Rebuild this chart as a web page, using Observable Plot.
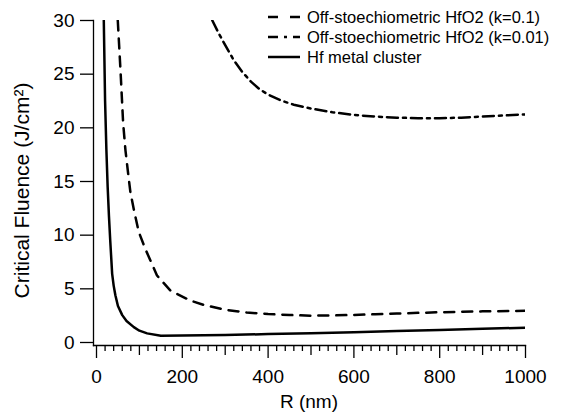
<!DOCTYPE html>
<html><head><meta charset="utf-8">
<script src="https://cdn.jsdelivr.net/npm/d3@7"></script>
<script src="https://cdn.jsdelivr.net/npm/@observablehq/plot@0.6"></script>
<style>
body{margin:0;background:#fff;color:#000}
#chart{position:relative;width:561px;height:414px}
</style>
</head><body><div id="chart"></div>
<script>
// ---- data ----
const seriesNames = ["Off-stoechiometric HfO2 (k=0.1)", "Off-stoechiometric HfO2 (k=0.01)", "Hf metal cluster"];

const rK01 = [49.6, 56, 62, 67.5, 73, 79, 87, 98.5, 114, 141, 172, 219, 250, 300, 350, 400, 450, 500, 550, 600, 650, 700, 800, 900, 1000];
const fK01 = [30, 25.3, 20.5, 17.9, 16, 14, 12.4, 10.3, 8.7, 6.24, 4.85, 3.9, 3.5, 3.05, 2.8, 2.65, 2.56, 2.5, 2.52, 2.57, 2.63, 2.7, 2.82, 2.9, 2.95];

const rK001 = [270, 285, 300, 320, 340, 360, 380, 400, 430, 460, 500, 550, 600, 650, 700, 750, 800, 850, 900, 950, 1000];
const fK001 = [30, 28.8, 27.7, 26.3, 25.2, 24.3, 23.6, 23.1, 22.55, 22.15, 21.8, 21.45, 21.2, 21.05, 20.95, 20.9, 20.9, 20.95, 21.05, 21.15, 21.25];

const rHf = [17, 20, 23, 26, 29, 32, 36.5, 40, 44, 50, 60, 70, 87, 100, 118, 150, 200, 300, 400, 500, 600, 700, 800, 900, 1000];
const fHf = [30, 22.5, 18, 14.5, 11.8, 9.5, 6.4, 5.3, 4.4, 3.4, 2.55, 2.0, 1.43, 1.1, 0.85, 0.63, 0.65, 0.7, 0.78, 0.87, 0.96, 1.06, 1.16, 1.27, 1.38];

const xMajorTicks = [0, 200, 400, 600, 800, 1000];
const xMidTicks = [100, 300, 500, 700, 900];
const xMinorTicks = [20, 40, 60, 80, 120, 140, 160, 180, 220, 240, 260, 280, 320, 340, 360, 380, 420, 440, 460, 480, 520, 540, 560, 580, 620, 640, 660, 680, 720, 740, 760, 780, 820, 840, 860, 880, 920, 940, 960, 980];
const yTicks = [0, 5, 10, 15, 20, 25, 30];

const xTitle = "R (nm)";
const yTitle = "Critical Fluence (J/cm\u00B2)";

// ---- build ----
const zip = (xs, ys) => xs.map((x, i) => ({r: x, f: ys[i]}));
const dK01 = zip(rK01, fK01);
const dK001 = zip(rK001, fK001);
const dHf = zip(rHf, fHf);

const dashes = ["10,8", "11,5,3,5", null];
const font = "'Liberation Sans', Arial, Helvetica, sans-serif";

const chart = Plot.plot({
  width: 561,
  height: 414,
  marginLeft: 93,
  marginRight: 36,
  marginTop: 20,
  marginBottom: 69,
  style: {fontFamily: font, background: "#fff", color: "#000", overflow: "visible"},
  x: {domain: [-7, 1000]},
  y: {domain: [-0.28, 30]},
  marks: [
    Plot.frame({anchor: "left", strokeWidth: 1.3}),
    Plot.frame({anchor: "bottom", strokeWidth: 1.3}),
    Plot.axisY(yTicks, {tickSize: 13, tickPadding: 6, fontSize: 19, label: null, strokeWidth: 1.3, tickFormat: d => String(d)}),
    Plot.axisX(xMajorTicks, {tickSize: 13, tickPadding: 11, fontSize: 19, label: null, strokeWidth: 1.3, tickFormat: d => String(d)}),
    Plot.axisX(xMidTicks, {tickSize: 10, tickFormat: () => "", label: null, strokeWidth: 1.3}),
    Plot.axisX(xMinorTicks, {tickSize: 6, tickFormat: () => "", label: null, strokeWidth: 1.3}),
    Plot.line(dHf, {x: "r", y: "f", stroke: "#000", strokeWidth: 2.5, clip: true}),
    Plot.line(dK01, {x: "r", y: "f", stroke: "#000", strokeWidth: 2.5, strokeDasharray: dashes[0], clip: true}),
    Plot.line(dK001, {x: "r", y: "f", stroke: "#000", strokeWidth: 2.5, strokeDasharray: dashes[1], clip: true})
  ]
});

const sx = chart.scale("x"), sy = chart.scale("y");
const svg = d3.select(chart);

// ---- axis titles ----
const xMid = (sx.range[0] + sx.range[1]) / 2;
svg.append("text")
  .attr("x", xMid).attr("y", sy.range[0] + 56).attr("dy", "0.35em")
  .attr("text-anchor", "middle").attr("font-family", font).attr("font-size", 19)
  .attr("fill", "#000").text(xTitle);
svg.append("text")
  .attr("transform", `translate(22,${(sy.range[0] + sy.range[1]) / 2 + 8}) rotate(-90)`)
  .attr("dy", "0.35em")
  .attr("text-anchor", "middle").attr("font-family", font).attr("font-size", 21)
  .attr("fill", "#000").text(yTitle);

// ---- legend (inside plot, top right) ----
const lg = svg.append("g").attr("font-family", font).attr("font-size", 16.5).attr("text-anchor", "start");
const legX = 268, legLine = 32, legTextX = 307, legY0 = 17, legDy = 20;
seriesNames.forEach((name, i) => {
  const y = legY0 + i * legDy;
  const ln = lg.append("line")
    .attr("x1", legX).attr("x2", legX + legLine)
    .attr("y1", y).attr("y2", y)
    .attr("stroke", "#000").attr("stroke-width", 2.5);
  if (dashes[i]) ln.attr("stroke-dasharray", i === 0 ? "10,12" : "10,6,3,6");
  lg.append("text").attr("x", legTextX).attr("y", y).attr("dy", "0.35em")
    .attr("fill", "#000").text(name);
});

document.getElementById("chart").appendChild(chart);
</script>
</body></html>
